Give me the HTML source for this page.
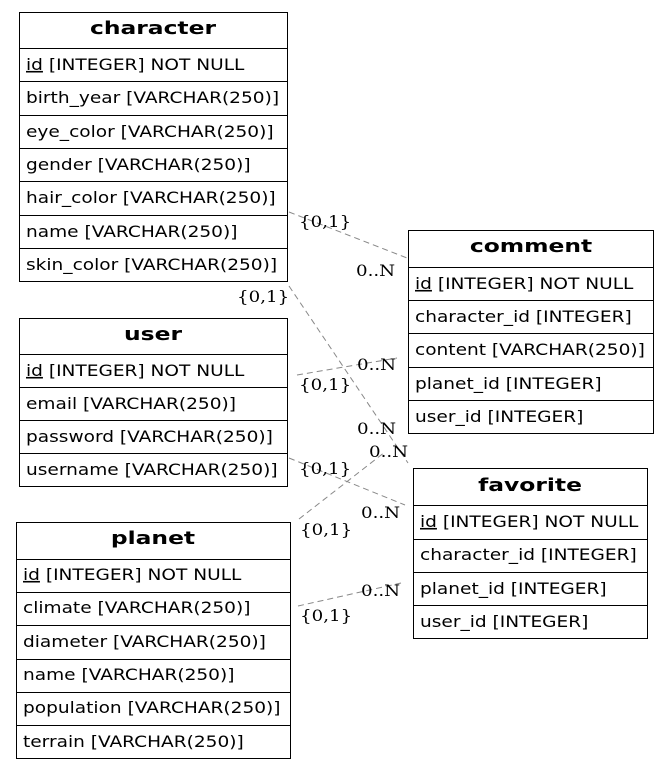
<!DOCTYPE html>
<html><head><meta charset="utf-8"><style>
html,body{margin:0;padding:0;background:#fff;}
svg{display:block}
.t{font-family:"DejaVu Sans","Liberation Sans",sans-serif;font-size:16px;fill:#000}
.h{font-family:"DejaVu Sans","Liberation Sans",sans-serif;font-size:18px;font-weight:bold;fill:#000}
.l{font-family:"DejaVu Serif","Liberation Serif",serif;font-size:16px;fill:#000}
.b{fill:none;stroke:#000;stroke-width:1}
.e{fill:none;stroke:#888;stroke-width:1;stroke-dasharray:6,4}
</style></head><body>
<svg width="669" height="770" viewBox="0 0 669 770" xmlns="http://www.w3.org/2000/svg">
<!-- edges -->
<path class="e" d="M289,212 L407,258"/>
<path class="e" d="M289,286 L408,463"/>
<path class="e" d="M297,375 L397,358"/>
<path class="e" d="M289,458 L405,505"/>
<path class="e" d="M299,519 L385,452"/>
<path class="e" d="M298,606 L401,583"/>

<!-- character -->
<rect class="b" x="19.5" y="12.5" width="268" height="269"/>
<path class="b" d="M19.5,48.5H287.5M19.5,81.5H287.5M19.5,115.5H287.5M19.5,148.5H287.5M19.5,181.5H287.5M19.5,215.5H287.5M19.5,248.5H287.5"/>
<g transform="translate(153,0) scale(1.3,1)"><text class="h" x="0" y="34" text-anchor="middle">character</text></g>
<g transform="translate(26,0) scale(1.16,1)">
<text class="t" x="0" y="70"><tspan text-decoration="underline">id</tspan> [INTEGER] NOT NULL</text>
<text class="t" x="0" y="103">birth_year [VARCHAR(250)]</text>
<text class="t" x="0" y="137">eye_color [VARCHAR(250)]</text>
<text class="t" x="0" y="170">gender [VARCHAR(250)]</text>
<text class="t" x="0" y="203">hair_color [VARCHAR(250)]</text>
<text class="t" x="0" y="237">name [VARCHAR(250)]</text>
<text class="t" x="0" y="270">skin_color [VARCHAR(250)]</text>
</g>

<!-- user -->
<rect class="b" x="19.5" y="318.5" width="268" height="168"/>
<path class="b" d="M19.5,354.5H287.5M19.5,387.5H287.5M19.5,420.5H287.5M19.5,453.5H287.5"/>
<g transform="translate(153,0) scale(1.3,1)"><text class="h" x="0" y="340" text-anchor="middle">user</text></g>
<g transform="translate(26,0) scale(1.16,1)">
<text class="t" x="0" y="376"><tspan text-decoration="underline">id</tspan> [INTEGER] NOT NULL</text>
<text class="t" x="0" y="409">email [VARCHAR(250)]</text>
<text class="t" x="0" y="442">password [VARCHAR(250)]</text>
<text class="t" x="0" y="475">username [VARCHAR(250)]</text>
</g>

<!-- planet -->
<rect class="b" x="16.5" y="522.5" width="274" height="236"/>
<path class="b" d="M16.5,559.5H290.5M16.5,592.5H290.5M16.5,625.5H290.5M16.5,659.5H290.5M16.5,692.5H290.5M16.5,725.5H290.5"/>
<g transform="translate(153,0) scale(1.3,1)"><text class="h" x="0" y="544" text-anchor="middle">planet</text></g>
<g transform="translate(23,0) scale(1.16,1)">
<text class="t" x="0" y="580"><tspan text-decoration="underline">id</tspan> [INTEGER] NOT NULL</text>
<text class="t" x="0" y="613">climate [VARCHAR(250)]</text>
<text class="t" x="0" y="647">diameter [VARCHAR(250)]</text>
<text class="t" x="0" y="680">name [VARCHAR(250)]</text>
<text class="t" x="0" y="713">population [VARCHAR(250)]</text>
<text class="t" x="0" y="747">terrain [VARCHAR(250)]</text>
</g>

<!-- comment -->
<rect class="b" x="408.5" y="230.5" width="245" height="203"/>
<path class="b" d="M408.5,267.5H653.5M408.5,300.5H653.5M408.5,333.5H653.5M408.5,367.5H653.5M408.5,400.5H653.5"/>
<g transform="translate(531,0) scale(1.3,1)"><text class="h" x="0" y="252" text-anchor="middle">comment</text></g>
<g transform="translate(415,0) scale(1.16,1)">
<text class="t" x="0" y="289"><tspan text-decoration="underline">id</tspan> [INTEGER] NOT NULL</text>
<text class="t" x="0" y="322">character_id [INTEGER]</text>
<text class="t" x="0" y="355">content [VARCHAR(250)]</text>
<text class="t" x="0" y="389">planet_id [INTEGER]</text>
<text class="t" x="0" y="422">user_id [INTEGER]</text>
</g>

<!-- favorite -->
<rect class="b" x="413.5" y="468.5" width="234" height="170"/>
<path class="b" d="M413.5,505.5H647.5M413.5,539.5H647.5M413.5,572.5H647.5M413.5,605.5H647.5"/>
<g transform="translate(530,0) scale(1.3,1)"><text class="h" x="0" y="491" text-anchor="middle">favorite</text></g>
<g transform="translate(420,0) scale(1.16,1)">
<text class="t" x="0" y="527"><tspan text-decoration="underline">id</tspan> [INTEGER] NOT NULL</text>
<text class="t" x="0" y="560">character_id [INTEGER]</text>
<text class="t" x="0" y="594">planet_id [INTEGER]</text>
<text class="t" x="0" y="627">user_id [INTEGER]</text>
</g>

<!-- labels -->
<g transform="translate(299,227) scale(1.14,1)"><text class="l">{0,1}</text></g>
<g transform="translate(356,276) scale(1.14,1)"><text class="l">0..N</text></g>
<g transform="translate(237,302) scale(1.14,1)"><text class="l">{0,1}</text></g>
<g transform="translate(357,370) scale(1.14,1)"><text class="l">0..N</text></g>
<g transform="translate(299,390) scale(1.14,1)"><text class="l">{0,1}</text></g>
<g transform="translate(357,434) scale(1.14,1)"><text class="l">0..N</text></g>
<g transform="translate(369,457) scale(1.14,1)"><text class="l">0..N</text></g>
<g transform="translate(299,474) scale(1.14,1)"><text class="l">{0,1}</text></g>
<g transform="translate(361,518) scale(1.14,1)"><text class="l">0..N</text></g>
<g transform="translate(300,535) scale(1.14,1)"><text class="l">{0,1}</text></g>
<g transform="translate(361,596) scale(1.14,1)"><text class="l">0..N</text></g>
<g transform="translate(300,621) scale(1.14,1)"><text class="l">{0,1}</text></g>
</svg>
</body></html>
